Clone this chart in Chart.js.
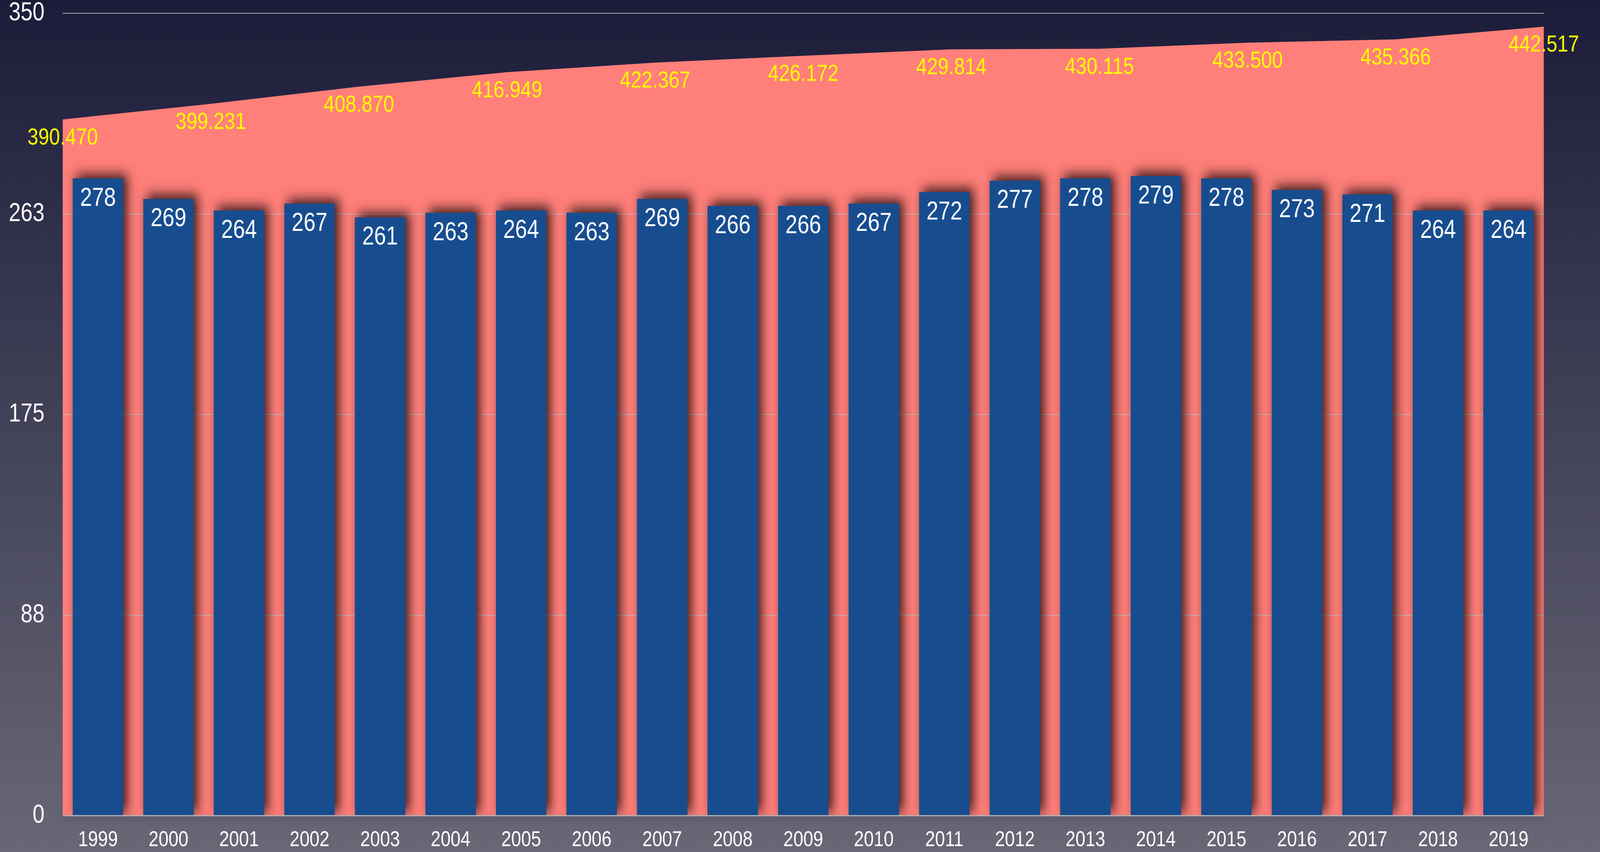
<!DOCTYPE html>
<html>
<head>
<meta charset="utf-8">
<script src="https://cdn.jsdelivr.net/npm/chart.js@4.4.1/dist/chart.umd.min.js"></script>
<style>
  html, body { margin: 0; padding: 0; overflow: hidden; }
  body {
    width: 100vw; height: 100vh;
    background: linear-gradient(to bottom, #1c1c3a 0%, #686776 100%);
  }
  canvas { display: block; width: 100vw; height: 100vh; }
</style>
</head>
<body>
<canvas id="chart" width="4926" height="2181" style="width:100vw;height:100vh"></canvas>
<script>
'use strict';

const years = ['1999', '2000', '2001', '2002', '2003', '2004', '2005', '2006', '2007', '2008', '2009',
  '2010', '2011', '2012', '2013', '2014', '2015', '2016', '2017', '2018', '2019'];
const barValues = [278, 269, 264, 267, 261, 263, 264, 263, 269, 266, 266,
  267, 272, 277, 278, 279, 278, 273, 271, 264, 264];

const areaYears = ['1999', '2001', '2003', '2005', '2007', '2009', '2011', '2013', '2015', '2017', '2019'];
const areaValues = [390.470, 399.231, 408.870, 416.949, 422.367, 426.172, 429.814, 430.115, 433.500, 435.366, 442.517];

const yTicks = [0, 87.5, 175, 262.5, 350];

const FONT = '"Liberation Sans", Arial, Helvetica, sans-serif';

// shadow under the bars, grid lines drawn over the pink area
const barShadow = {
  id: 'barShadow',
  beforeDatasetDraw(chart, args) {
    if (args.meta.type !== 'bar') return;
    const ctx = chart.ctx;
    ctx.save();
    ctx.shadowColor = 'rgba(10,0,0,0.8)';
    ctx.shadowBlur = 30;
    ctx.shadowOffsetX = 12;
    ctx.shadowOffsetY = -10;
  },
  afterDatasetDraw(chart, args) {
    const ctx = chart.ctx;
    if (args.meta.type === 'bar') {
      ctx.restore();
      return;
    }
    const y = chart.scales.y;
    const area = chart.chartArea;
    ctx.save();
    ctx.strokeStyle = 'rgba(195,195,195,0.85)';
    ctx.lineWidth = 2;
    y.ticks.forEach(t => {
      if (t.value === 0) return;
      const py = Math.round(y.getPixelForValue(t.value));
      ctx.beginPath();
      ctx.moveTo(area.left, py);
      ctx.lineTo(area.right, py);
      ctx.stroke();
    });
    ctx.restore();
  }
};

const valueLabels = {
  id: 'valueLabels',
  afterDatasetsDraw(chart) {
    const ctx = chart.ctx;
    const area = chart.chartArea;
    const y = chart.scales.y;

    // bottom axis line with a soft shadow
    ctx.save();
    ctx.shadowColor = 'rgba(0,0,0,0.35)';
    ctx.shadowBlur = 18;
    ctx.shadowOffsetY = 6;
    ctx.strokeStyle = '#b4b4b4';
    ctx.lineWidth = 3;
    const py = y.getPixelForValue(0);
    ctx.beginPath();
    ctx.moveTo(area.left, py);
    ctx.lineTo(area.right + 2, py);
    ctx.stroke();
    ctx.restore();

    ctx.save();
    ctx.textAlign = 'center';
    ctx.textBaseline = 'alphabetic';

    const areaMeta = chart.getDatasetMeta(0);
    ctx.fillStyle = '#ffff00';
    ctx.font = '60px ' + FONT;
    areaMeta.data.forEach((pt, i) => {
      ctx.fillText(areaValues[i].toFixed(3), pt.x, pt.y + 64);
    });

    const barMeta = chart.getDatasetMeta(1);
    ctx.fillStyle = '#ffffff';
    ctx.font = '66px ' + FONT;
    barMeta.data.forEach((bar, i) => {
      ctx.fillText(String(barValues[i]), bar.x, bar.y + 70);
    });
    ctx.restore();
  }
};

const ctx = document.getElementById('chart').getContext('2d');
new Chart(ctx, {
  type: 'bar',
  data: {
    labels: years,
    datasets: [{
      type: 'line',
      label: 'area',
      data: areaValues,
      xAxisID: 'x2',
      yAxisID: 'y2',
      order: 2,
      fill: 'origin',
      backgroundColor: '#ff7f7a',
      borderColor: 'rgba(0,0,0,0)',
      borderWidth: 0,
      pointRadius: 0,
      tension: 0
    }, {
      type: 'bar',
      label: 'bars',
      data: barValues,
      xAxisID: 'x',
      yAxisID: 'y',
      order: 1,
      grouped: false,
      backgroundColor: '#174d8f',
      borderWidth: 0,
      categoryPercentage: 1,
      barPercentage: 0.715
    }]
  },
  options: {
    responsive: false,
    devicePixelRatio: 1,
    animation: false,
    layout: { padding: { top: 34, right: 173, left: 0, bottom: 0 } },
    plugins: {
      legend: { display: false },
      tooltip: { enabled: false }
    },
    scales: {
      x: {
        type: 'category',
        position: 'bottom',
        offset: true,
        grid: { display: false, drawTicks: false },
        border: { display: false },
        ticks: {
          color: '#ffffff',
          font: { family: FONT, size: 55 },
          padding: 30,
          maxRotation: 0,
          autoSkip: false
        },
        afterFit(s) { s.height = 93; }
      },
      x2: {
        type: 'category',
        labels: areaYears,
        offset: false,
        display: false
      },
      y: {
        min: 0,
        max: 350,
        position: 'left',
        grid: { display: false, drawTicks: false },
        border: { display: false },
        afterBuildTicks(s) { s.ticks = yTicks.map(v => ({ value: v })); },
        ticks: {
          color: '#ffffff',
          font: { family: FONT, size: 66, lineHeight: 1 },
          padding: 56,
          callback: v => String(Math.round(v))
        },
        afterFit(s) {
          s.width = 193;
          s.paddingTop = 0;
          s.paddingBottom = 0;
        }
      },
      y2: {
        min: 0,
        max: 450,
        display: false
      }
    }
  },
  plugins: [barShadow, valueLabels]
});
</script>
</body>
</html>
